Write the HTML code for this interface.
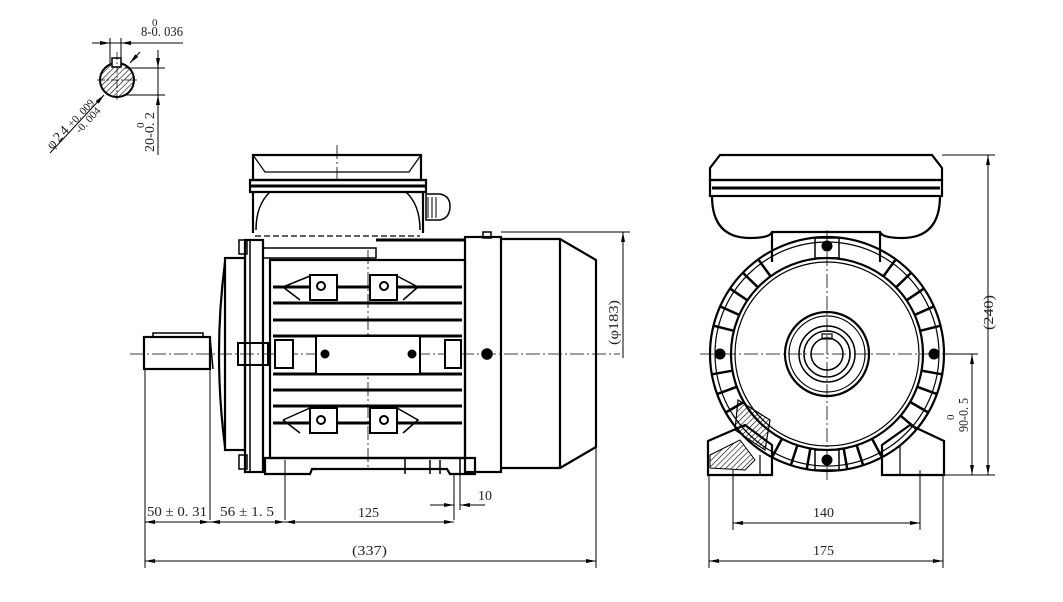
<!DOCTYPE html>
<html><head><meta charset="utf-8"><style>
html,body{margin:0;padding:0;background:#fff;}
svg{display:block;}
text{font-family:"Liberation Serif",serif;font-size:14px;fill:#222;}
</style></head><body>
<svg width="1063" height="602" viewBox="0 0 1063 602" xmlns="http://www.w3.org/2000/svg">
<defs>
<marker id="a" viewBox="0 0 10 4" refX="10" refY="2" markerWidth="10" markerHeight="4" orient="auto-start-reverse" markerUnits="userSpaceOnUse"><path d="M0,0 L10,2 L0,4z" fill="#000"/></marker>
<pattern id="h" width="4" height="4" patternUnits="userSpaceOnUse" patternTransform="rotate(45)"><line x1="0" y1="0" x2="0" y2="4" stroke="#000" stroke-width="1.2"/></pattern>
</defs>
<g fill="none" stroke="#000">
<!-- shaft detail top-left -->
<circle cx="117" cy="80" r="17" stroke-width="2" fill="url(#h)"/>
<rect x="112" y="58" width="9" height="9" stroke-width="1.5" fill="#fff"/>
<line x1="92" y1="43" x2="183" y2="43" stroke-width="1"/>
<line x1="110" y1="38" x2="110" y2="66" stroke-width="1"/>
<line x1="121" y1="38" x2="121" y2="66" stroke-width="1"/>
<line x1="92" y1="43" x2="110" y2="43" marker-end="url(#a)"/>
<line x1="136" y1="43" x2="121" y2="43" marker-end="url(#a)"/>
<line x1="125" y1="68" x2="165" y2="68" stroke-width="1"/>
<line x1="125" y1="95" x2="165" y2="95" stroke-width="1"/>
<line x1="158" y1="50" x2="158" y2="155" stroke-width="1"/>
<line x1="158" y1="50" x2="158" y2="68" marker-end="url(#a)"/>
<line x1="158" y1="110" x2="158" y2="95" marker-end="url(#a)"/>
<line x1="50" y1="153" x2="104" y2="95" stroke-width="1" marker-end="url(#a)"/>
<line x1="140" y1="52" x2="130" y2="63" marker-end="url(#a)"/>
<line x1="97" y1="80" x2="137" y2="80" stroke-width=".7" stroke-dasharray="8 2 2 2"/>
<line x1="117" y1="52" x2="117" y2="100" stroke-width=".7" stroke-dasharray="8 2 2 2"/>

<!-- centre line side view -->
<line x1="130" y1="354" x2="620" y2="354" stroke-width=".8" stroke-dasharray="14 3 2 3"/>
<line x1="368" y1="250" x2="368" y2="470" stroke-width=".8" stroke-dasharray="14 3 2 3"/>
<line x1="337" y1="145" x2="337" y2="180" stroke-width=".8" stroke-dasharray="14 3 2 3"/>

<!-- terminal box side -->
<g stroke-width="2.2">
<path d="M253,155 H421 V180 H253 Z"/>
<path d="M250,180 H426 V192 H250 Z"/>
<path d="M253,155 L265,172 H409 L421,155" stroke-width="1.2"/>
<line x1="250" y1="186" x2="426" y2="186" stroke-width="3"/>
<path d="M253,192 V233 M423,192 V233"/>
<path d="M270,192 Q256,205 256,230" stroke-width="1.5"/>
<path d="M406,192 Q420,205 420,230" stroke-width="1.5"/>
<path d="M426,194 H440 Q450,196 450,206 Q450,218 440,220 H426 Z" stroke-width="1.5"/>
<path d="M428,197 V218 M432,197 V218 M436,197 V218" stroke-width="1"/>
</g>
<line x1="255" y1="236" x2="420" y2="236" stroke-dasharray="6 3" stroke-width="1.2"/>
<path d="M376,240 H465" stroke-width="3"/>

<!-- shaft -->
<rect x="144" y="337" width="66" height="32" stroke-width="2.2"/>
<rect x="153" y="333" width="50" height="4" stroke-width="1.5"/>
<line x1="210" y1="337" x2="213" y2="369" stroke-width="1.5"/>
<!-- front flange -->
<path d="M225,262 Q213,354 225,447" stroke-width="2.2"/>
<rect x="225" y="258" width="20" height="192" stroke-width="2.2"/>
<rect x="245" y="240" width="18" height="232" stroke-width="2.2"/>
<line x1="250" y1="240" x2="250" y2="472" stroke-width="1.5"/>
<rect x="239" y="240" width="8" height="14" stroke-width="1.5"/>
<rect x="239" y="455" width="8" height="14" stroke-width="1.5"/>
<rect x="238" y="343" width="30" height="22" stroke-width="2"/>

<!-- body -->
<path d="M270,260 H465 V458 H270 Z" stroke-width="2.2"/>
<path d="M263,248 H376 V258 H263" stroke-width="1.5"/>
<g stroke-width="3">
<line x1="273" y1="287" x2="462" y2="287"/>
<line x1="273" y1="303" x2="462" y2="303"/>
<line x1="273" y1="320" x2="462" y2="320"/>
<line x1="273" y1="336" x2="462" y2="336"/>
<line x1="273" y1="374" x2="462" y2="374"/>
<line x1="273" y1="390" x2="462" y2="390"/>
<line x1="273" y1="406" x2="462" y2="406"/>
<line x1="273" y1="423" x2="462" y2="423"/>
</g>
<rect x="316" y="336" width="104" height="38" stroke-width="2" fill="#fff"/>
<circle cx="325" cy="354" r="4" fill="#000"/>
<circle cx="412" cy="354" r="4" fill="#000"/>
<rect x="275" y="340" width="18" height="28" stroke-width="2" fill="#fff"/>
<rect x="445" y="340" width="16" height="28" stroke-width="2" fill="#fff"/>
<g stroke-width="2" fill="#fff">
<rect x="310" y="275" width="27" height="25"/><circle cx="321" cy="286" r="4"/>
<rect x="370" y="275" width="27" height="25"/><circle cx="384" cy="286" r="4"/>
<rect x="310" y="408" width="27" height="25"/><circle cx="321" cy="420" r="4"/>
<rect x="370" y="408" width="27" height="25"/><circle cx="384" cy="420" r="4"/>
</g>
<path d="M283,287 L310,276 M283,287 L300,300 M397,276 L418,287 L403,300 M283,420 L310,408 M283,420 L300,433 M397,408 L418,420 L403,433" stroke-width="1.5"/>
<!-- foot -->
<path d="M265,458 H475 V474 H450 L447,469 H312 L310,474 H265 Z" stroke-width="2.2"/>
<path d="M405,458 V474 M430,460 V474 M440,460 V474 M460,458 V474" stroke-width="1.5"/>
<!-- rear ring -->
<rect x="465" y="237" width="36" height="235" stroke-width="2.2"/>
<circle cx="487" cy="354" r="5" stroke-width="1.5" fill="#000"/>
<rect x="483" y="232" width="8" height="6" stroke-width="1.5"/>
<!-- fan cover -->
<path d="M501,239 H560 L596,260 V447 L560,468 H501" stroke-width="2.2"/>
<line x1="560" y1="239" x2="560" y2="468" stroke-width="2.2"/>

<!-- side view dims -->
<g stroke-width="1">
<line x1="145" y1="370" x2="145" y2="568"/>
<line x1="210" y1="370" x2="210" y2="520"/>
<line x1="285" y1="460" x2="285" y2="520"/>
<line x1="454" y1="474" x2="454" y2="520"/>
<line x1="460" y1="474" x2="460" y2="510"/>
<line x1="596" y1="447" x2="596" y2="568"/>
<line x1="145" y1="522" x2="210" y2="522" marker-start="url(#a)" marker-end="url(#a)"/>
<line x1="210" y1="522" x2="285" y2="522" marker-start="url(#a)" marker-end="url(#a)"/>
<line x1="285" y1="522" x2="454" y2="522" marker-start="url(#a)" marker-end="url(#a)"/>
<line x1="145" y1="561" x2="596" y2="561" marker-start="url(#a)" marker-end="url(#a)"/>
<line x1="430" y1="505" x2="454" y2="505" marker-end="url(#a)"/>
<line x1="485" y1="505" x2="460" y2="505" marker-end="url(#a)"/>
<line x1="501" y1="232" x2="630" y2="232"/>
<line x1="623" y1="358" x2="623" y2="232" marker-end="url(#a)"/>
</g>

<!-- FRONT VIEW -->
<line x1="700" y1="354" x2="955" y2="354" stroke-width=".8" stroke-dasharray="14 3 2 3"/>
<line x1="827" y1="230" x2="827" y2="480" stroke-width=".8" stroke-dasharray="14 3 2 3"/>
<g stroke-width="2.2">
<path d="M720,155 H932 L942,168 V180 H710 V168 Z"/>
<rect x="710" y="180" width="232" height="16"/>
<line x1="712" y1="188" x2="940" y2="188" stroke-width="3"/>
<path d="M712,196 Q712,238 750,238 Q770,238 772,232 H880 Q882,238 902,238 Q940,238 940,196"/>
<path d="M772,232 V262 M880,232 V262"/>
<circle cx="827" cy="354" r="117"/>
<circle cx="827" cy="354" r="112" stroke-width="1.2"/>
<circle cx="827" cy="354" r="96"/>
<circle cx="827" cy="354" r="92" stroke-width="1.2"/>
<circle cx="827" cy="354" r="42"/>
<circle cx="827" cy="354" r="38" stroke-width="1.2"/>
<circle cx="827" cy="354" r="28" stroke-width="1.5"/>
<circle cx="827" cy="354" r="23" stroke-width="1.5"/>
<circle cx="827" cy="354" r="16" stroke-width="1.5"/>
<rect x="822" y="334" width="10" height="5" stroke-width="1.2"/>
<path d="M708,441 L745,425 L772,445 V475 H708 Z"/>
<path d="M882,445 L910,425 L944,441 V475 H882 Z"/>
<path d="M900,445 V475 M760,455 V475" stroke-width="1.2"/>
<path d="M738,400 L770,420 L765,450 L735,430 Z" fill="url(#h)" stroke-width="1.2"/>
<path d="M710,455 L740,440 L755,460 L745,470 L710,468 Z" fill="url(#h)" stroke-width="1"/>
</g>
<!-- radial fins -->
<g stroke-width="2.5">
<line x1="827" y1="237" x2="827" y2="258" transform="rotate(36 827 354)"/>
<line x1="827" y1="237" x2="827" y2="258" transform="rotate(46 827 354)"/>
<line x1="827" y1="237" x2="827" y2="258" transform="rotate(56 827 354)"/>
<line x1="827" y1="237" x2="827" y2="258" transform="rotate(66 827 354)"/>
<line x1="827" y1="237" x2="827" y2="258" transform="rotate(76 827 354)"/>
<line x1="827" y1="237" x2="827" y2="258" transform="rotate(100 827 354)"/>
<line x1="827" y1="237" x2="827" y2="258" transform="rotate(110 827 354)"/>
<line x1="827" y1="237" x2="827" y2="258" transform="rotate(120 827 354)"/>
<line x1="827" y1="237" x2="827" y2="258" transform="rotate(130 827 354)"/>
<line x1="827" y1="237" x2="827" y2="258" transform="rotate(152 827 354)"/>
<line x1="827" y1="237" x2="827" y2="258" transform="rotate(162 827 354)"/>
<line x1="827" y1="237" x2="827" y2="258" transform="rotate(170 827 354)"/>
<line x1="827" y1="237" x2="827" y2="258" transform="rotate(190 827 354)"/>
<line x1="827" y1="237" x2="827" y2="258" transform="rotate(198 827 354)"/>
<line x1="827" y1="237" x2="827" y2="258" transform="rotate(208 827 354)"/>
<line x1="827" y1="237" x2="827" y2="258" transform="rotate(-36 827 354)"/>
<line x1="827" y1="237" x2="827" y2="258" transform="rotate(-46 827 354)"/>
<line x1="827" y1="237" x2="827" y2="258" transform="rotate(-56 827 354)"/>
<line x1="827" y1="237" x2="827" y2="258" transform="rotate(-66 827 354)"/>
<line x1="827" y1="237" x2="827" y2="258" transform="rotate(-76 827 354)"/>
<line x1="827" y1="237" x2="827" y2="258" transform="rotate(-100 827 354)"/>
<line x1="827" y1="237" x2="827" y2="258" transform="rotate(-110 827 354)"/>
<line x1="827" y1="237" x2="827" y2="258" transform="rotate(-120 827 354)"/>
</g>
<g fill="#000">
<circle cx="827" cy="246" r="5"/><circle cx="827" cy="460" r="5"/>
<circle cx="720" cy="354" r="5"/><circle cx="934" cy="354" r="5"/>
</g>
<rect x="815" y="238" width="24" height="20" stroke-width="1.5"/>
<rect x="815" y="450" width="24" height="20" stroke-width="1.5"/>
<!-- front dims -->
<g stroke-width="1">
<line x1="942" y1="155" x2="995" y2="155"/>
<line x1="944" y1="475" x2="995" y2="475"/>
<line x1="945" y1="354" x2="978" y2="354"/>
<line x1="988" y1="155" x2="988" y2="475" marker-start="url(#a)" marker-end="url(#a)"/>
<line x1="972" y1="354" x2="972" y2="475" marker-start="url(#a)" marker-end="url(#a)"/>
<line x1="709" y1="475" x2="709" y2="568"/>
<line x1="943" y1="475" x2="943" y2="568"/>
<line x1="733" y1="470" x2="733" y2="530"/>
<line x1="920" y1="470" x2="920" y2="530"/>
<line x1="733" y1="523" x2="920" y2="523" marker-start="url(#a)" marker-end="url(#a)"/>
<line x1="709" y1="561" x2="943" y2="561" marker-start="url(#a)" marker-end="url(#a)"/>
</g>
</g>

<!-- text -->
<text x="147" y="516" textLength="60" lengthAdjust="spacingAndGlyphs">50 ± 0. 31</text>
<text x="220" y="516" textLength="54" lengthAdjust="spacingAndGlyphs">56 ± 1. 5</text>
<text x="358" y="517">125</text>
<text x="478" y="500">10</text>
<text x="352" y="555" textLength="35" lengthAdjust="spacingAndGlyphs">(337)</text>
<text x="813" y="517">140</text>
<text x="813" y="555">175</text>
<text x="141" y="36" textLength="42" lengthAdjust="spacingAndGlyphs">8-0. 036</text>
<text x="152" y="26" style="font-size:11px">0</text>
<text transform="translate(154,152) rotate(-90)" textLength="40" lengthAdjust="spacingAndGlyphs">20-0. 2</text>
<text transform="translate(144,128) rotate(-90)" style="font-size:11px">0</text>
<text transform="translate(52,150) rotate(-47)" textLength="26">φ24</text>
<text transform="translate(72,128) rotate(-47)" style="font-size:11px">+0. 009</text>
<text transform="translate(80,134) rotate(-47)" style="font-size:11px">-0. 004</text>
<text transform="translate(618,345) rotate(-90)" textLength="45" lengthAdjust="spacingAndGlyphs">(φ183)</text>
<text transform="translate(993,330) rotate(-90)" textLength="35" lengthAdjust="spacingAndGlyphs">(240)</text>
<text transform="translate(968,432) rotate(-90)" textLength="34" lengthAdjust="spacingAndGlyphs">90-0. 5</text>
<text transform="translate(954,420) rotate(-90)" style="font-size:11px">0</text>
</svg>
</body></html>
